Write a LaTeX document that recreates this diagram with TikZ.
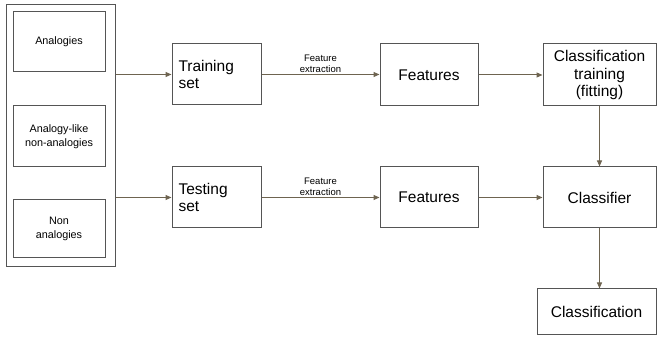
\documentclass[tikz,border=0pt]{standalone}
\usepackage{fontspec}
\setmainfont{Liberation Sans}
\usetikzlibrary{arrows.meta}
\definecolor{boxline}{HTML}{555555}
\definecolor{arrowcol}{HTML}{6E6450}
\begin{document}
\begin{tikzpicture}[x=1pt,y=-1pt,
  box/.style={draw=boxline, line width=1pt, inner sep=0pt, align=center},
  big/.style={font=\fontsize{15.5}{17}\selectfont},
  mid/.style={font=\fontsize{15.5}{17.5}\selectfont},
  small/.style={font=\fontsize{10.8}{13.5}\selectfont},
  lbl/.style={font=\fontsize{9.5}{11}\selectfont, align=center, inner sep=0pt},
  conn/.style={draw=arrowcol, line width=1pt, -{Triangle[length=6pt,width=5pt]}}]
\useasboundingbox (0,0) rectangle (657,339);
\node[box, minimum width=109pt, minimum height=262pt] (outer) at (60.5,136) {};
\node[box, small, minimum width=92pt, minimum height=60pt] (ana) at (59,42) {Analogies};
\node[box, small, minimum width=92pt, minimum height=61pt] (alike) at (59,136.5) {Analogy-like\\non-analogies};
\node[box, small, minimum width=92pt, minimum height=58pt] (non) at (59,229) {Non\\analogies};
\node[box, big, minimum width=89pt, minimum height=61pt, text width=76pt, align=left] (train) at (216.5,74.5) {Training\\set};
\node[box, big, minimum width=89pt, minimum height=61pt, text width=76pt, align=left] (test) at (216.5,197.5) {Testing\\set};
\node[box, mid, minimum width=98pt, minimum height=62pt] (feat1) at (429,75) {Features};
\node[box, mid, minimum width=98pt, minimum height=61pt] (feat2) at (429,197.5) {Features};
\node[box, mid, minimum width=113pt, minimum height=62pt] (ctrain) at (599.5,75) {Classification\\training\\(fitting)};
\node[box, mid, minimum width=113pt, minimum height=61pt] (clf) at (599.5,197.5) {Classifier};
\node[box, mid, minimum width=119pt, minimum height=46pt] (cls) at (596.5,312) {Classification};
\draw[conn] (outer.east |- train) -- (train.west);
\draw[conn] (outer.east |- test) -- (test.west);
\draw[conn] (train.east) -- node[lbl, above=1.5pt] {Feature\\extraction} (feat1.west |- train.east);
\draw[conn] (test.east) -- node[lbl, above=1.5pt] {Feature\\extraction} (feat2.west |- test.east);
\draw[conn] (feat1.east) -- (ctrain.west);
\draw[conn] (feat2.east) -- (clf.west);
\draw[conn] (ctrain.south) -- (clf.north);
\draw[conn] (clf.south) -- (clf.south |- cls.north);
\end{tikzpicture}
\end{document}
